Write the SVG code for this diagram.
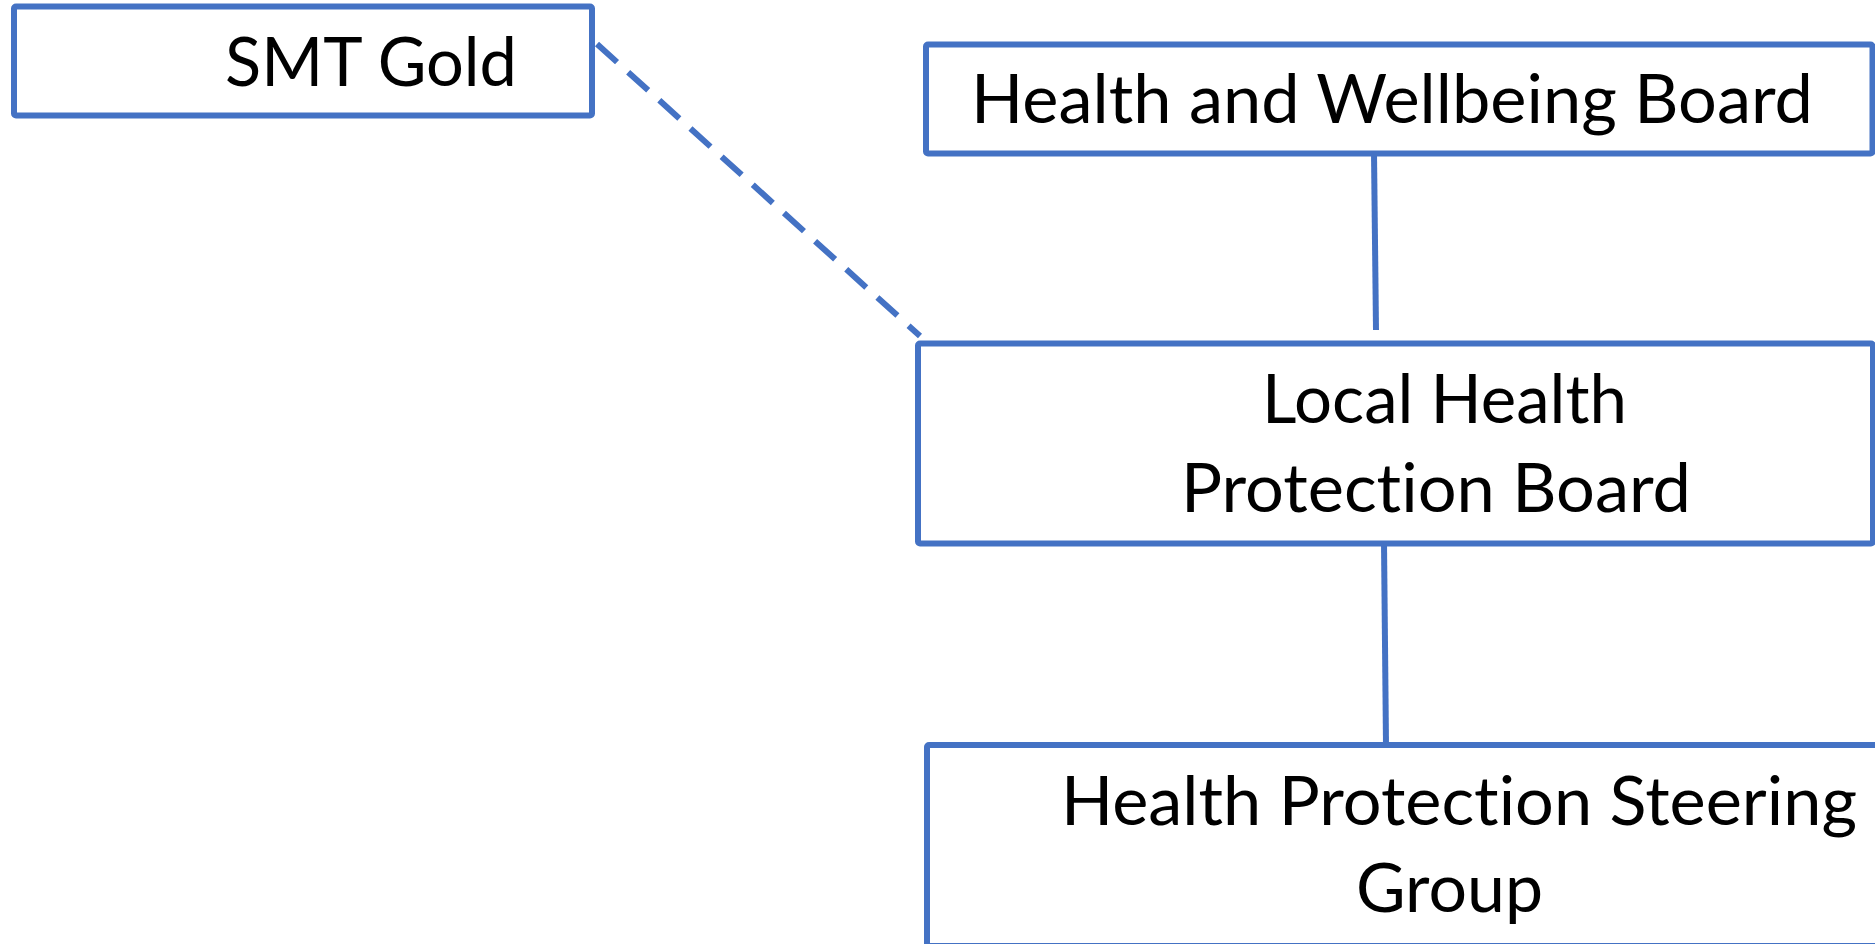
<svg xmlns="http://www.w3.org/2000/svg" width="1875" height="944" viewBox="0 0 1875 944">
<style>
.box{fill:#FFFFFF;stroke:#4472C4;stroke-width:6;stroke-linejoin:round}
.lbl{font-family:Lato,"Open Sans","Liberation Sans",sans-serif;font-size:67px;fill:#000000;font-variant-ligatures:none;font-feature-settings:"liga" 0}
.conn{stroke:#4472C4;stroke-width:6;fill:none}
.dash{stroke-dasharray:27 15}
</style>
<rect x="0" y="0" width="1875" height="944" fill="#FFFFFF"/>
<g id="connectors">
<line class="conn" x1="1374" y1="153" x2="1376" y2="330"/>
<line class="conn" x1="1384" y1="543" x2="1386" y2="745"/>
<line class="conn dash" x1="597" y1="44" x2="920" y2="336"/>
</g>
<g id="node-smt-gold">
<rect class="box" x="14" y="6.5" width="578" height="109" rx="2"/>
<text class="lbl" x="225" y="86" textLength="292" lengthAdjust="spacingAndGlyphs">SMT Gold</text>
</g>
<g id="node-hwb">
<rect class="box" x="926" y="44.5" width="946.5" height="109" rx="2"/>
<text class="lbl" x="971" y="123" textLength="842" lengthAdjust="spacingAndGlyphs">Health and Wellbeing Board</text>
</g>
<g id="node-lhpb">
<rect class="box" x="918" y="343.5" width="955" height="200" rx="2"/>
<text class="lbl" x="1262" y="423" textLength="365" lengthAdjust="spacingAndGlyphs">Local Health</text>
<text class="lbl" x="1181" y="512" textLength="510" lengthAdjust="spacingAndGlyphs">Protection Board</text>
</g>
<g id="node-hpsg">
<rect class="box" x="927" y="745" width="960" height="201" rx="2"/>
<text class="lbl" x="1061" y="825" textLength="796" lengthAdjust="spacingAndGlyphs">Health Protection Steering</text>
<text class="lbl" x="1356" y="912" textLength="187" lengthAdjust="spacingAndGlyphs">Group</text>
</g>
</svg>
